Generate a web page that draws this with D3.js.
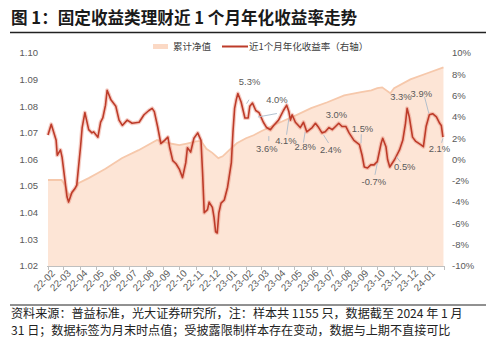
<!DOCTYPE html>
<html><head><meta charset="utf-8">
<script src="https://cdn.jsdelivr.net/npm/d3@7/dist/d3.min.js"></script>
<style>
body{margin:0;background:#fff;}
svg{display:block;}
</style></head><body>
<svg id="c" width="500" height="345"></svg>
<script>
// ---------- data ----------
const navDates = ["2022-02-01","2022-02-26","2022-03-04","2022-03-11","2022-03-18","2022-03-29","2022-04-17","2022-05-04","2022-05-18","2022-06-17","2022-07-18","2022-08-21","2022-09-12","2022-10-01","2022-10-15","2022-11-01","2022-11-10","2022-11-20","2022-12-01","2022-12-12","2022-12-20","2023-01-01","2023-01-15","2023-02-01","2023-02-15","2023-03-01","2023-04-01","2023-05-01","2023-06-01","2023-07-01","2023-08-01","2023-09-01","2023-09-20","2023-10-01","2023-10-10","2023-10-25","2023-11-01","2023-12-01","2024-01-01","2024-01-31"];
const navValues = [1.0523,1.0523,1.0504,1.0466,1.0475,1.0511,1.0530,1.0549,1.0565,1.0605,1.0635,1.0673,1.0661,1.0654,1.0660,1.0668,1.0670,1.0640,1.0625,1.0605,1.0612,1.0635,1.0661,1.0680,1.0691,1.0706,1.0736,1.0763,1.0793,1.0815,1.0841,1.0853,1.0860,1.0868,1.0871,1.0849,1.0868,1.0901,1.0924,1.0946];

const rateDates = ["2022-02-01","2022-02-07","2022-02-16","2022-02-18","2022-02-24","2022-02-27","2022-03-08","2022-03-11","2022-03-17","2022-03-23","2022-03-26","2022-04-02","2022-04-05","2022-04-10","2022-04-17","2022-04-23","2022-04-26","2022-05-04","2022-05-09","2022-05-13","2022-05-18","2022-05-21","2022-05-28","2022-06-06","2022-06-12","2022-06-18","2022-06-27","2022-07-06","2022-07-19","2022-07-28","2022-08-06","2022-08-12","2022-08-16","2022-08-22","2022-08-28","2022-09-04","2022-09-10","2022-09-13","2022-09-19","2022-09-25","2022-10-01","2022-10-07","2022-10-13","2022-10-16","2022-10-22","2022-10-28","2022-11-04","2022-11-10","2022-11-13","2022-11-16","2022-11-22","2022-11-25","2022-12-01","2022-12-04","2022-12-07","2022-12-10","2022-12-13","2022-12-17","2022-12-23","2022-12-29","2023-01-05","2023-01-08","2023-01-11","2023-01-14","2023-01-17","2023-01-23","2023-01-30","2023-02-05","2023-02-08","2023-02-13","2023-02-19","2023-02-25","2023-03-05","2023-03-11","2023-03-18","2023-03-24","2023-04-02","2023-04-11","2023-04-17","2023-04-21","2023-04-24","2023-04-27","2023-05-03","2023-05-12","2023-05-18","2023-05-24","2023-06-03","2023-06-09","2023-06-15","2023-06-21","2023-06-27","2023-07-04","2023-07-10","2023-07-16","2023-07-22","2023-07-28","2023-08-04","2023-08-10","2023-08-19","2023-08-29","2023-09-03","2023-09-07","2023-09-13","2023-09-19","2023-09-25","2023-10-01","2023-10-08","2023-10-11","2023-10-17","2023-10-20","2023-10-24","2023-11-02","2023-11-11","2023-11-17","2023-11-22","2023-11-25","2023-11-29","2023-12-05","2023-12-11","2023-12-20","2023-12-25","2023-12-30","2024-01-05","2024-01-11","2024-01-18","2024-01-24","2024-01-27","2024-01-30"];
const rateValues = [2.3,3.3,1.8,0.4,0.9,0.2,-3.5,-4.0,-3.1,-2.7,-2.4,1.2,3.0,4.4,2.8,2.5,2.6,2.1,3.5,3.9,5.1,6.5,5.6,5.0,3.7,3.2,3.7,3.4,3.5,4.2,4.6,4.8,4.5,3.1,1.5,1.8,2.1,1.2,-0.1,-0.4,-0.9,-1.7,-0.3,1.1,0.7,2.0,2.5,1.8,-1.3,-5.0,-4.7,-4.0,-4.5,-5.4,-6.8,-6.9,-5.0,-4.1,-3.8,-2.6,-0.3,2.6,4.8,5.6,6.2,5.4,3.9,3.9,5.0,5.3,4.6,4.4,3.5,3.0,2.8,3.2,3.7,4.6,5.1,4.5,3.7,4.2,3.5,3.0,3.5,2.6,3.0,3.4,3.0,2.5,2.6,3.0,2.8,3.1,3.4,3.1,3.1,2.5,1.8,1.4,0.4,-0.7,-0.8,-0.5,-0.5,-0.2,1.5,2.0,1.2,0.0,-0.7,0.0,0.9,1.8,3.4,4.8,4.0,2.1,1.7,1.4,1.2,3.1,4.2,4.3,4.0,3.4,3.2,2.1];

const monthLabels = ["22-02","22-03","22-04","22-05","22-06","22-07","22-08","22-09","22-10","22-11","22-12","23-01","23-02","23-03","23-04","23-05","23-06","23-07","23-08","23-09","23-10","23-11","23-12","24-01"];
const leftTicks = [1.02,1.03,1.04,1.05,1.06,1.07,1.08,1.09,1.10];
const rightTicks = [-10,-8,-6,-4,-2,0,2,4,6,8,10];

// month-end data labels (text, anchor date, anchor value on right axis)
const annoTexts  = ["5.3%","4.0%","3.6%","4.1%","2.8%","2.4%","3.0%","1.5%","-0.7%","0.5%","3.3%","3.9%","2.1%"];
const annoDates  = ["2023-02-02","2023-02-23","2023-03-15","2023-04-21","2023-05-21","2023-06-24","2023-07-27","2023-09-01","2023-10-01","2023-11-05","2023-11-22","2024-01-04","2024-01-30"];
const annoValues = [5.24,3.99,2.2,3.83,2.58,2.3,3.3,1.52,-0.36,0.26,4.8,4.34,1.99];
// layout offsets (px) : [labelDx, labelDy, leaderDx, leaderDy] (leader null = none)
const annoLayout = [[3,-22,2.5,-4],[19,-17,19,-3.5],[-2,13,0,5],[-3,21.5,-2.3,16],[0,15,-1.7,10.5],[7,15,5,8],[-5,-10,null,null],[1.5,-15,0.3,-9],[-3.5,18.5,-2.3,11.5],[8.5,10,4.3,5.3],[-4.5,-11.5,null,null],[-7.5,-20,-4.3,-16.5],[-3.5,10,-1.3,4.5]];

// ---------- drawing ----------
const parse = d3.timeParse("%Y-%m-%d");
const nav = navDates.map((d,i)=>({date:parse(d), v:navValues[i]}));
const rate = rateDates.map((d,i)=>({date:parse(d), v:rateValues[i]}));

const svg = d3.select("#c");
svg.append("rect").attr("width",500).attr("height",345).attr("fill","#fff");

const L = 48, R = 444, T = 53, B = 266;
const x = d3.scaleTime().domain([parse("2022-02-01"), parse("2024-02-01")]).range([L,R]);
const yL = d3.scaleLinear().domain([1.02,1.10]).range([B,T]);
const yR = d3.scaleLinear().domain([-10,10]).range([B,T]);

const cjk = "'Noto Sans CJK SC','Noto Sans',sans-serif";
const num = "'Liberation Sans',Arial,sans-serif";

// title
svg.append("text").attr("x",11).attr("y",23.5).attr("font-family",cjk).attr("font-weight","bold")
  .attr("font-size",16.6).attr("fill","#1a1a1a").text("图 1：固定收益类理财近 1 个月年化收益率走势");
svg.append("line").attr("x1",10).attr("x2",486).attr("y1",32.5).attr("y2",32.5).attr("stroke","#222").attr("stroke-width",1.3);

// area
const area = d3.area().x(d=>x(d.date)).y0(yL(1.02)).y1(d=>yL(d.v));
svg.append("path").datum(nav).attr("d",area).attr("fill","#fde5d6");
svg.append("path").datum(nav).attr("d",d3.line().x(d=>x(d.date)).y(d=>yL(d.v)))
  .attr("fill","none").attr("stroke","#f6c8ab").attr("stroke-width",1.8);

// x axis
const months = d3.timeMonth.range(parse("2022-02-01"), parse("2024-02-02"));
svg.append("line").attr("x1",L-1).attr("x2",R).attr("y1",B+0.5).attr("y2",B+0.5).attr("stroke","#bfbfbf");
svg.selectAll(".tk").data(months).enter().append("line")
  .attr("x1",d=>Math.round(x(d))+0.5).attr("x2",d=>Math.round(x(d))+0.5)
  .attr("y1",B).attr("y2",B+4).attr("stroke","#bfbfbf");
svg.selectAll(".xl").data(monthLabels).enter().append("text")
  .attr("transform",(d,i)=>{const m0=d3.timeMonth.offset(parse("2022-02-01"),i), m1=d3.timeMonth.offset(m0,1);
     const cx=(x(m0)+x(m1))/2; return `translate(${cx},274) rotate(-45)`;})
  .attr("text-anchor","end").attr("font-family",num).attr("font-size",9.8).attr("fill","#595959").text(d=>d);

// y axes
svg.selectAll(".yl").data(leftTicks).enter().append("text")
  .attr("x",38).attr("y",d=>yL(d)).attr("dy","0.35em").attr("text-anchor","end")
  .attr("font-family",num).attr("font-size",9.5).attr("fill","#595959").text(d=>d.toFixed(2));
svg.selectAll(".yr").data(rightTicks).enter().append("text")
  .attr("x",452).attr("y",d=>yR(d)).attr("dy","0.35em").attr("text-anchor","start")
  .attr("font-family",num).attr("font-size",9.5).attr("fill","#595959").text(d=>d+"%");

// rate line with halo
const rl = d3.line().x(d=>x(d.date)).y(d=>yR(d.v));
svg.append("path").datum(rate).attr("d",rl).attr("fill","none").attr("stroke","#e8907e").attr("stroke-opacity",0.45).attr("stroke-width",4).attr("stroke-linejoin","round");
svg.append("path").datum(rate).attr("d",rl).attr("fill","none").attr("stroke","#bd3b29").attr("stroke-width",1.6).attr("stroke-linejoin","round");

// annotations
annoTexts.forEach((t,i)=>{
  const ax = x(parse(annoDates[i])), ay = yR(annoValues[i]);
  const [ldx,ldy,edx,edy] = annoLayout[i];
  if(edx!==null){
    svg.append("line").attr("x1",ax).attr("y1",ay).attr("x2",ax+edx).attr("y2",ay+edy)
      .attr("stroke","#a9bacb").attr("stroke-width",0.9);
  }
  svg.append("text").attr("x",ax+ldx).attr("y",ay+ldy).attr("dy","0.35em").attr("text-anchor","middle")
    .attr("font-family",num).attr("font-size",9.4).attr("fill","#595959").text(t);
});

// legend
svg.append("line").attr("x1",153).attr("x2",168).attr("y1",46.5).attr("y2",46.5).attr("stroke","#fbd9c5").attr("stroke-width",5);
svg.append("text").attr("x",173).attr("y",46.5).attr("dy","0.35em").attr("font-family",cjk).attr("font-size",9.5).attr("fill","#404040").text("累计净值");
svg.append("line").attr("x1",222).attr("x2",248).attr("y1",46.5).attr("y2",46.5).attr("stroke","#bd3b29").attr("stroke-width",2);
svg.append("text").attr("x",249).attr("y",46.5).attr("dy","0.35em").attr("font-family",cjk).attr("font-size",9.5).attr("fill","#404040").text("近1个月年化收益率（右轴）");

// footer
svg.append("line").attr("x1",10).attr("x2",486).attr("y1",305).attr("y2",305).attr("stroke","#222").attr("stroke-width",1);
svg.append("text").attr("x",11).attr("y",317.5).attr("font-family",cjk).attr("font-size",12.1).attr("fill","#222")
  .text("资料来源：普益标准，光大证券研究所，注：样本共 1155 只，数据截至 2024 年 1 月");
svg.append("text").attr("x",11).attr("y",334.5).attr("font-family",cjk).attr("font-size",12.1).attr("fill","#222")
  .text("31 日；数据标签为月末时点值；受披露限制样本存在变动，数据与上期不直接可比");
</script></body></html>
